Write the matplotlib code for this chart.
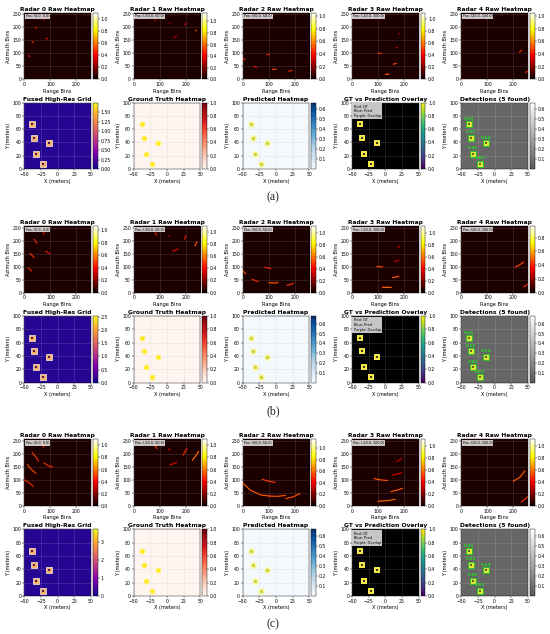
import numpy as np
import matplotlib
matplotlib.use('Agg')
import matplotlib.pyplot as plt
from matplotlib.colors import LinearSegmentedColormap

W, H = 550, 634

# target positions (meters), same in all three cases
target_x = [-38, -35, -13, -32, -22]
target_y = [67, 47, 39, 23, 8]
det_scores = ['0.65', '0.66', '0.64', '0.65', '0.63']

radar_pos = ['(0.0, 0.0)', '(-50.0, 50.0)', '(50.0, 50.0)', '(-20.0, 100.0)', '(20.0, 100.0)']
cases = ['(a)', '(b)', '(c)']

# colorbar tops for each radar, per case
raw_vmax = [[1.1, 1.15, 1.05, 1.1, 1.05],
            [1.07, 1.1, 1.12, 1.12, 0.97],
            [1.1, 1.1, 1.15, 1.12, 1.12]]
fused_vmax = [1.75, 2.55, 3.7]
fused_ticks = [[0, .25, .5, .75, 1, 1.25, 1.5], [0, .5, 1, 1.5, 2, 2.5], [0, 1, 2, 3]]
pred_vmax = [0.66, 0.68, 0.67]
det_vmax = [0.66, 0.68, 0.67]

# streaks: (range bins, azimuth bins, intensity)
raw_a = [
    [([16, 21], [91, 88], .6), ([30, 35], [145, 141], .65), ([42, 47], [200, 197], .6),
     ([85, 90], [158, 155], .55), ([72, 74], [234, 229], .5), ([101, 103], [222, 222], .25)],
    [([81, 84], [227, 225], .55), ([136, 139], [215, 215], .3), ([197, 199], [210, 214], .55),
     ([239, 241], [186, 190], .75), ([157, 164], [162, 164], .5)],
    [([2, 9], [80, 75], .7), ([43, 54], [50, 46], .6), ([113, 127], [38, 38], .7),
     ([177, 189], [31, 34], .65), ([92, 102], [96, 94], .6)],
    [([128, 142], [19, 20], .8), ([159, 171], [58, 61], .75), ([100, 112], [101, 99], .7),
     ([170, 174], [121, 123], .5), ([179, 181], [173, 177], .45)],
    [([223, 232], [105, 111], .7), ([247, 255], [26, 31], .6)],
]
raw_b = [
    [([15, 22, 28], [95, 89, 83], .65), ([22, 30, 38], [150, 143, 135], .7),
     ([38, 43, 48], [205, 198, 190], .65), ([82, 90, 97], [160, 154, 150], .6),
     ([72, 75], [238, 225], .55)],
    [([82, 88], [230, 222], .6), ([134, 140], [217, 215], .35), ([195, 200], [205, 218], .6),
     ([235, 243], [180, 195], .8), ([150, 160, 170], [160, 163, 168], .55)],
    [([0, 6, 12], [85, 78, 72], .75), ([35, 47, 60], [52, 47, 42], .65),
     ([100, 118, 135], [38, 37, 38], .8), ([170, 183, 195], [28, 31, 35], .7),
     ([85, 97, 108], [98, 95, 92], .65)],
    [([115, 132, 150], [20, 20, 20], .85), ([155, 168, 180], [58, 60, 63], .8),
     ([95, 106, 118], [100, 100, 98], .75), ([165, 172, 180], [120, 122, 124], .5),
     ([175, 179, 183], [172, 175, 178], .45)],
    [([208, 225, 240], [98, 107, 118], .75), ([240, 248, 255], [22, 27, 33], .65)],
]
raw_c = [
    [([0, 20, 35], [100, 88, 75], .65), ([12, 25, 45], [160, 142, 125], .75),
     ([30, 45, 55], [205, 188, 172], .7), ([75, 95, 110], [165, 153, 150], .65),
     ([70, 73, 75], [245, 235, 225], .6)],
    [([80, 85, 90], [235, 227, 220], .65), ([133, 142], [218, 215], .4),
     ([190, 197, 203], [195, 208, 220], .65), ([225, 240, 250], [175, 195, 210], .85),
     ([140, 152, 165], [158, 162, 168], .55)],
    [([0, 30, 70, 100], [88, 60, 42, 38], .8), ([100, 135, 165], [38, 37, 40], .8),
     ([165, 195, 220], [28, 35, 48], .75), ([75, 100, 125], [102, 95, 90], .7)],
    [([100, 135, 165], [18, 20, 25], .85), ([150, 180, 195], [55, 63, 68], .8),
     ([85, 110, 135], [105, 100, 98], .8), ([155, 172, 190], [118, 122, 128], .5),
     ([172, 181, 190], [170, 176, 182], .45)],
    [([200, 225, 245], [95, 110, 135], .8), ([230, 243, 255], [15, 25, 35], .7)],
]
raw_all = [raw_a, raw_b, raw_c]

col_x = [24.3, 133.7, 242.7, 352.0, 461.3]
row_y = [[12.7, 102.5], [226.0, 316.0], [439.3, 529.3]]
caption_y = [197, 411, 624]
AX = 66.6
CB_GAP, CB_W = 2.2, 4.4

TITLE, LABEL, TICK = 4.3, 3.6, 3.3

det_cmap = LinearSegmentedColormap.from_list('det', ['#585858', '#ffffff'])


def make_axes(fig, px, py):
    ax = fig.add_axes([px / W, 1 - (py + AX) / H, AX / W, AX / H])
    cax = fig.add_axes([(px + AX + CB_GAP) / W, 1 - (py + AX) / H, CB_W / W, AX / H])
    return ax, cax


def style(ax, cax, title, xlabel, ylabel, xlim, ylim, xticks, yticks, grid_col, grid_alpha):
    ax.set_xlim(*xlim)
    ax.set_ylim(*ylim)
    ax.set_xticks(xticks)
    ax.set_yticks(yticks)
    ax.set_title(title, fontsize=TITLE, fontweight='bold', pad=1.4)
    ax.set_xlabel(xlabel, fontsize=LABEL, labelpad=1.3)
    ax.set_ylabel(ylabel, fontsize=LABEL, labelpad=1.0)
    ax.tick_params(labelsize=TICK, length=1.1, width=.3, pad=0.9)
    ax.grid(True, color=grid_col, alpha=grid_alpha, linewidth=.4)
    for s in ax.spines.values():
        s.set_linewidth(.3)
    cax.tick_params(labelsize=TICK, length=1.1, width=.3, pad=0.9)
    for s in cax.spines.values():
        s.set_linewidth(.3)


def flat_image(ax, cax, fig, cmap, vmin, vmax, level, extent):
    im = ax.imshow([[level, level], [level, level]], cmap=cmap, vmin=vmin, vmax=vmax,
                   extent=extent, origin='lower', aspect='auto', zorder=0)
    fig.colorbar(im, cax=cax)
    return im


def raw_panel(fig, px, py, r, streaks, vmax):
    ax, cax = make_axes(fig, px, py)
    flat_image(ax, cax, fig, 'hot', 0, vmax, 0.03 * vmax, [0, 256, 0, 256])
    cax.set_yticks(np.arange(0, vmax + .01, .2))
    style(ax, cax, f'Radar {r} Raw Heatmap', 'Range Bins', 'Azimuth Bins', (0, 256), (0, 256),
          [0, 100, 200], [0, 50, 100, 150, 200, 250], 'white', .2)
    cmap = plt.get_cmap('hot')
    for xs, ys, val in streaks:
        ax.plot(xs, ys, color=cmap(val * .45), lw=1.2, alpha=.5, solid_capstyle='round', zorder=2)
        ax.plot(xs, ys, color=cmap(val * .72), lw=.5, solid_capstyle='round', zorder=3)
    ax.text(.02, .975, f'Pos: {radar_pos[r]}', transform=ax.transAxes, fontsize=2.4, va='top',
            bbox=dict(boxstyle='square,pad=0.25', fc='white', ec='none', alpha=.78), zorder=5)


def lower_panels(fig, py, k):
    ext = [-50, 50, 0, 100]
    xt = [-50, -25, 0, 25, 50]
    yt = [0, 20, 40, 60, 80, 100]
    xl, yl = 'X (meters)', 'Y (meters)'

    # fused grid
    ax, cax = make_axes(fig, col_x[0], py)
    flat_image(ax, cax, fig, 'plasma', 0, fused_vmax[k], 0.04 * fused_vmax[k], ext)
    cax.set_yticks(fused_ticks[k])
    style(ax, cax, 'Fused High-Res Grid', xl, yl, (-50, 50), (0, 100), xt, yt, 'white', .22)
    ax.scatter(target_x, target_y, marker='s', s=13, c='#f6b26b', edgecolors='#fff0dd', linewidths=.5, zorder=3)
    ax.scatter(target_x, target_y, marker='s', s=2, c='#4a1a50', linewidths=0, zorder=4)

    # ground truth
    ax, cax = make_axes(fig, col_x[1], py)
    flat_image(ax, cax, fig, 'Reds', 0, 1, 0, ext)
    cax.set_yticks(np.arange(0, 1.01, .2))
    style(ax, cax, 'Ground Truth Heatmap', xl, yl, (-50, 50), (0, 100), xt, yt, '#999999', .2)
    ax.scatter(target_x, target_y, s=19, c='#fff38c', linewidths=0, zorder=3)
    ax.scatter(target_x, target_y, s=8, c='#ffe81a', linewidths=0, zorder=4)

    # prediction
    ax, cax = make_axes(fig, col_x[2], py)
    flat_image(ax, cax, fig, 'Blues', 0, pred_vmax[k], 0.01, ext)
    cax.set_yticks(np.arange(.1, pred_vmax[k], .1))
    style(ax, cax, 'Predicted Heatmap', xl, yl, (-50, 50), (0, 100), xt, yt, '#8899aa', .2)
    ax.scatter(target_x, target_y, s=24, c='#f9f7a8', linewidths=0, zorder=3)
    ax.scatter(target_x, target_y, s=6, c='#c9d33a', linewidths=0, zorder=4)

    # overlay
    ax, cax = make_axes(fig, col_x[3], py)
    flat_image(ax, cax, fig, 'viridis', 0, 1, 0, ext)
    ax.images[0].set_data([[-1, -1], [-1, -1]])
    ax.images[0].cmap = plt.get_cmap('viridis').with_extremes(under='black')
    cax.set_yticks(np.arange(0, 1.01, .2))
    style(ax, cax, 'GT vs Prediction Overlay', xl, yl, (-50, 50), (0, 100), xt, yt, 'white', .18)
    ax.scatter(target_x, target_y, marker='s', s=13, c='#f5e94a', linewidths=0, zorder=3)
    ax.scatter(target_x, target_y, marker='s', s=2.5, c='#3a3a20', linewidths=0, zorder=4)
    ax.text(.025, .965, 'Red: GT\nBlue: Pred\nPurple: Overlap', transform=ax.transAxes, fontsize=2.5,
            va='top', linespacing=1.2,
            bbox=dict(boxstyle='square,pad=0.4', fc='white', ec='none', alpha=.78), zorder=5)

    # detections
    ax, cax = make_axes(fig, col_x[4], py)
    flat_image(ax, cax, fig, det_cmap, 0, det_vmax[k], 0.06, ext)
    cax.set_yticks(np.arange(.1, det_vmax[k], .1))
    style(ax, cax, 'Detections (5 found)', xl, yl, (-50, 50), (0, 100), xt, yt, 'white', .2)
    ax.scatter(target_x, target_y, marker='s', s=16, c='#e9e93a', edgecolors='#2fc02f', linewidths=.8, zorder=3)
    ax.scatter(target_x, target_y, marker='s', s=2, c='#5a6a20', linewidths=0, zorder=4)
    for x, y, s in zip(target_x, target_y, det_scores):
        ax.text(x, y + 5, s, color='#22dd22', fontsize=3, fontweight='bold', ha='center', va='bottom', zorder=5)


def main():
    fig = plt.figure(figsize=(W / 100, H / 100), dpi=100)
    for k in range(3):
        y_top, y_low = row_y[k]
        for r in range(5):
            raw_panel(fig, col_x[r], y_top, r, raw_all[k][r], raw_vmax[k][r])
        lower_panels(fig, y_low, k)
        fig.text(273 / W, 1 - caption_y[k] / H, cases[k], fontsize=8.5, family='Liberation Serif',
                 ha='center', va='center', color='#222222')
    fig.savefig('out.png', dpi=100)
    plt.close(fig)


if __name__ == '__main__':
    main()
